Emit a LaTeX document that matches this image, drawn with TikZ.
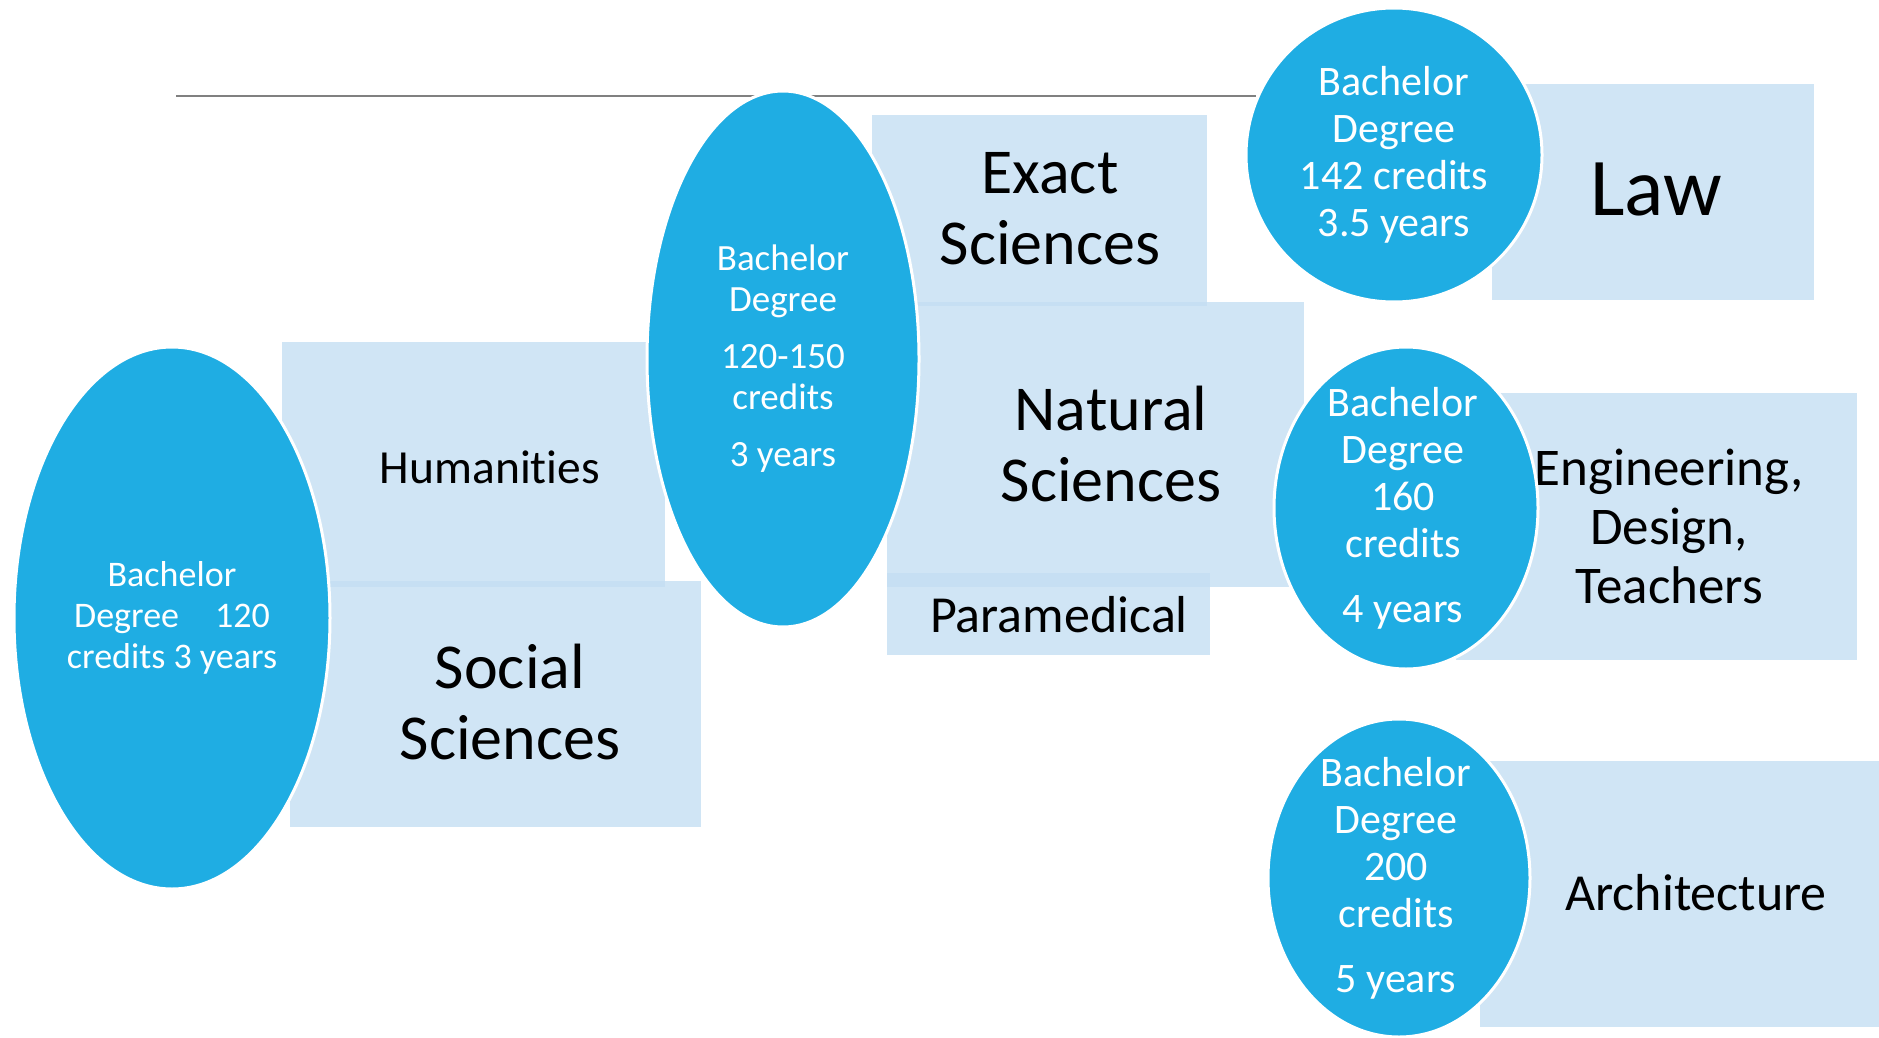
\documentclass[tikz,border=0pt]{standalone}
\usepackage{fontspec}
\setmainfont{Carlito}[Ligatures=NoCommon]
\usetikzlibrary{positioning}
\usetikzlibrary{shapes,arrows}
\definecolor{degblue}{RGB}{31,173,227}
\definecolor{fieldblue}{RGB}{196,222,242}
\tikzset{
  degree/.style={ellipse, fill=degblue, draw=white, line width=3pt, inner sep=0pt},
  degtext/.style={text=white, align=center, inner sep=0pt},
  field/.style={rectangle, fill=fieldblue, fill opacity=0.8, inner sep=0pt},
  fieldtext/.style={align=center, text=black, inner sep=0pt},
  rule/.style={draw=gray, line width=2pt},
}

\begin{document}
\begin{tikzpicture}[x=1pt,y=-1pt]
  \useasboundingbox (0,0) rectangle (1879,1038);
  % top rule
  \coordinate(r0) at (176,96);
  \coordinate(r1) at (1256,96);
  \draw[rule] (r0) -- (r1);
  % field boxes
  \node(hum) [field, minimum width=383, minimum height=245] at (473.5,464.5) {};
  \node(soc) [field, minimum width=411, minimum height=246] at (495.5,704) {};
  \node(exa) [field, minimum width=335, minimum height=191] at (1039.5,210.5) {};
  \node(nat) [field, minimum width=417, minimum height=285] at (1095.5,444.5) {};
  \node(par) [field, minimum width=323, minimum height=82] at (1048.5,614) {};
  \node(law) [field, minimum width=322, minimum height=216] at (1653,192) {};
  \node(eng) [field, minimum width=401, minimum height=267] at (1656.5,526.5) {};
  \node(arc) [field, minimum width=399, minimum height=266] at (1679.5,894) {};
  % field names
  \node(humt) [fieldtext, font=\fontsize{47.5}{57}\selectfont] at (490,467) {Humanities};
  \node(soct) [fieldtext, font=\fontsize{64}{71}\selectfont] at (510,702) {Social\\Sciences};
  \node(exat) [fieldtext, font=\fontsize{64}{71}\selectfont] at (1050,209) {Exact\\Sciences};
  \node(natt) [fieldtext, font=\fontsize{64}{71}\selectfont] at (1111,444) {Natural\\Sciences};
  \node(part) [fieldtext, font=\fontsize{52}{60}\selectfont] at (1059,615) {Paramedical};
  \node(lawt) [fieldtext, font=\fontsize{82}{90}\selectfont] at (1656,189) {Law};
  \node(engt) [fieldtext, font=\fontsize{53}{59}\selectfont] at (1669,526) {Engineering,\\Design,\\Teachers};
  \node(arct) [fieldtext, font=\fontsize{52}{60}\selectfont] at (1696,893) {Architecture};
  % bachelor degrees
  \node(b1) [degree, minimum width=316, minimum height=542] at (172,618) {};
  \node(b2) [degree, minimum width=272, minimum height=536] at (783,359) {};
  \node(b3) [degree, minimum width=296, minimum height=294] at (1394,155) {};
  \node(b4) [degree, minimum width=264, minimum height=322] at (1406,508) {};
  \node(b5) [degree, minimum width=262, minimum height=318] at (1399,878) {};
  \node(b1t) [degtext, font=\fontsize{36}{41}\selectfont] at (b1)
    {Bachelor\\Degree\quad 120\\credits 3 years};
  \node(b2t) [degtext, font=\fontsize{37}{41}\selectfont] at (b2)
    {Bachelor\\Degree\\[16pt]120-150\\credits\\[16pt]3 years};
  \node(b3t) [degtext, font=\fontsize{42}{47}\selectfont] at (b3)
    {Bachelor\\Degree\\142 credits\\3.5 years};
  \node(b4t) [degtext, font=\fontsize{42}{47}\selectfont] at ([xshift=-3]b4.center)
    {Bachelor\\Degree\\160\\credits\\[18pt]4 years};
  \node(b5t) [degtext, font=\fontsize{42}{47}\selectfont] at ([xshift=-3]b5.center)
    {Bachelor\\Degree\\200\\credits\\[18pt]5 years};
\end{tikzpicture}
\end{document}
